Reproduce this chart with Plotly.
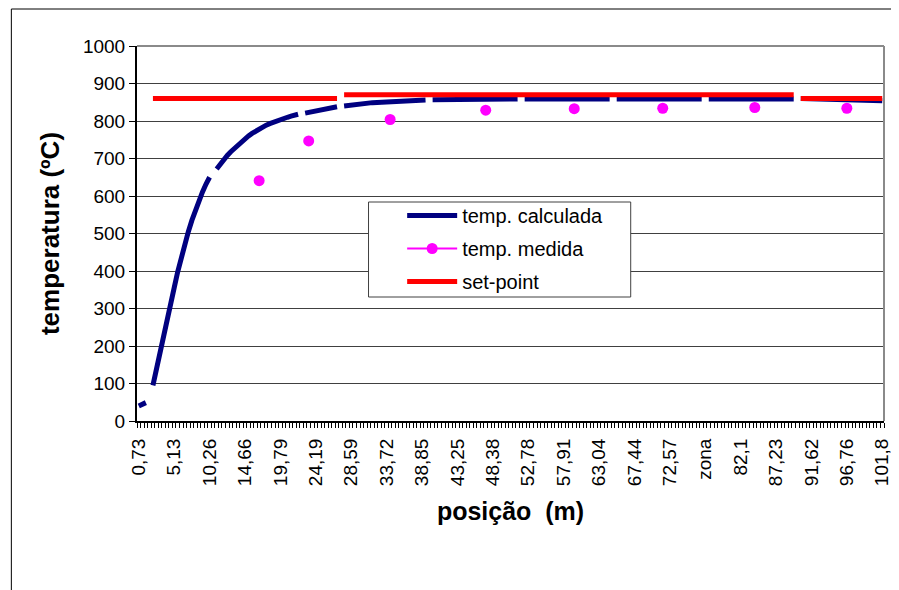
import plotly.graph_objects as go

# ---------------- data ----------------
n_categories = 211
tick_cats = list(range(0, 211, 10))
tick_labels = ["0,73", "5,13", "10,26", "14,66", "19,79", "24,19", "28,59", "33,72",
               "38,85", "43,25", "48,38", "52,78", "57,91", "63,04", "67,44", "72,57",
               "zona", "82,1", "87,23", "91,62", "96,76", "101,8"]

# temp. calculada (category index, value); None = blank "zona" row
calc_cat = [0, 1, 2, 3,
            4, 5, 6, 7, 8, 9, 10, 11, 12, 13, 14, 15, 16, 17, 18, 19, 20, 21,
            22, 23, 24, 25, 26, 27, 28, 29, 30, 31, 32, 33, 34, 35, 36, 37, 38, 39,
            40, 41, 42, 43, 44, 45, 46,
            47, 49, 51, 53, 56, 57,
            58, 62, 66, 70, 75, 81, 82,
            83, 95, 107, 108,
            109, 133, 134,
            135, 159, 160,
            161, 185, 186,
            187, 198, 210]
calc_val = [40, 45, 49, None,
            95, 140, 190, 235, 275, 315, 355, 398, 438, 473, 505, 535, 563, 588, 611, 632, 650, None,
            672, 685, 697, 708, 718, 727, 736, 744, 752, 760, 767, 773, 779, 784, 789, 793, 797, 801,
            804, 807, 810, 813, 816, 818, None,
            821, 825, 829, 833, 838, None,
            840, 845, 849, 851, 854, 856, None,
            857, 858, 859, None,
            859, 859, None,
            859, 859, None,
            859, 859, None,
            860, 857, 854]

# temp. medida
meas_cat = [34, 48, 71, 98, 123, 148, 174, 200]
meas_val = [641, 747, 804, 829, 833, 834, 836, 834]

# set-point
sp_cat = [4, 56, 57, 58, 185, 186, 187, 210]
sp_val = [860, 860, None, 870, 870, None, 860, 860]

y_ticks = list(range(0, 1001, 100))

# ---------------- figure ----------------
FONT = "Liberation Sans, Arial, sans-serif"

# measured points: isolated (blank rows between them)
mx, my = [], []
for c, v in zip(meas_cat, meas_val):
    mx += [c, c + 1]
    my += [v, None]

fig = go.Figure()
fig.add_trace(go.Scatter(x=calc_cat, y=calc_val, mode="lines", name="temp. calculada",
                         line=dict(color="#000080", width=5), connectgaps=False,
                         legendgroup="a"))
fig.add_trace(go.Scatter(x=mx, y=my, mode="lines+markers", name="temp. medida",
                         line=dict(color="#FF00FF", width=2),
                         marker=dict(color="#FF00FF", size=11), connectgaps=False,
                         legendgroup="b"))
fig.add_trace(go.Scatter(x=sp_cat, y=sp_val, mode="lines", name="set-point",
                         line=dict(color="#FF0000", width=5), connectgaps=False,
                         legendgroup="c"))

# page has an 8px body margin: figure origin sits at page (8, 8)
OFF = 8
W, H = 899 - OFF, 590 - OFF
L, T = 137 - OFF, 46 - OFF
R = W - (892 - OFF)
B = H - (421 - OFF)
pw, ph = W - L - R, H - T - B


def px(xp):  # page pixel -> paper x
    return (xp - OFF - L) / pw


def py(yp):  # page pixel -> paper y
    return (H - B - (yp - OFF)) / ph


shapes = [
    # outer chart frame
    dict(type="rect", xref="paper", yref="paper", x0=px(10), x1=px(960), y0=py(9), y1=py(640),
         line=dict(color="black", width=1), fillcolor="rgba(0,0,0,0)", layer="below"),
    # plot-area border (top / right)
    dict(type="line", xref="paper", yref="paper", x0=0, x1=1, y0=1, y1=1,
         line=dict(color="#8a8a8a", width=2)),
    dict(type="line", xref="paper", yref="paper", x0=1, x1=1, y0=0, y1=1,
         line=dict(color="#8a8a8a", width=2)),
    # legend box
    dict(type="rect", xref="paper", yref="paper", x0=px(371), x1=px(636), y0=py(297), y1=py(202),
         line=dict(color="#404040", width=1), fillcolor="white", layer="above"),
]

fig.update_layout(
    width=W, height=H,
    margin=dict(l=L, r=R, t=T, b=B),
    paper_bgcolor="white", plot_bgcolor="white",
    font=dict(family=FONT, size=19, color="black"),
    showlegend=True,
    legend=dict(x=px(405), y=py(196), xanchor="left", yanchor="top",
                bgcolor="rgba(0,0,0,0)", borderwidth=0,
                font=dict(family=FONT, size=20, color="black"),
                traceorder="grouped", tracegroupgap=4, itemwidth=50),
    shapes=shapes,
)

fig.update_xaxes(
    range=[-0.5, n_categories - 0.5],
    tickmode="array", tickvals=tick_cats, ticktext=tick_labels,
    tickangle=-90, ticks="", ticklabelstandoff=8, ticklabeloverflow="allow",
    showgrid=False, zeroline=False,
    showline=True, linecolor="black", linewidth=2,
    minor=dict(tick0=-0.5, dtick=1, ticks="outside", ticklen=5, tickcolor="black",
               tickwidth=1, showgrid=False),
    title=dict(text="<b>posição \u00a0(m)</b>", font=dict(family=FONT, size=25), standoff=17),
)
fig.update_yaxes(
    range=[0, 1000], tickmode="array", tickvals=y_ticks,
    ticks="outside", ticklen=6, tickcolor="black", tickwidth=1,
    showgrid=True, gridcolor="#404040", gridwidth=1, zeroline=False,
    showline=True, linecolor="black", linewidth=2,
    title=dict(text="<b>temperatura (ºC)</b>", font=dict(family=FONT, size=26), standoff=16),
)

fig.write_html("out.html")
